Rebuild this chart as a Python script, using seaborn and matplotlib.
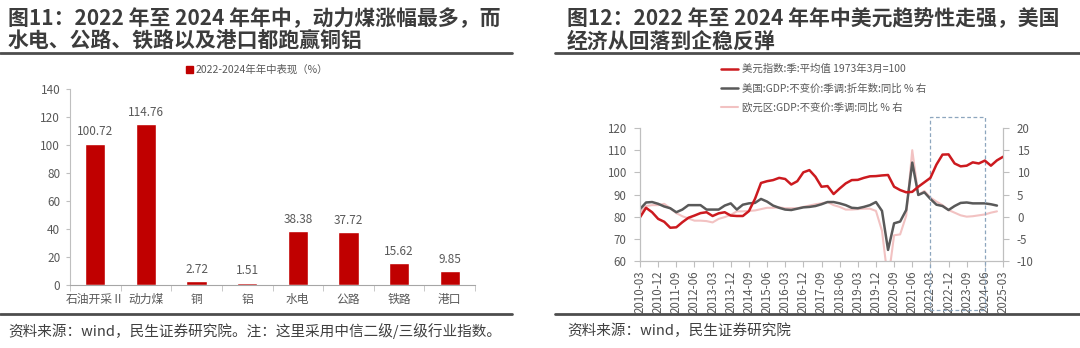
import numpy as np
import pandas as pd
import matplotlib
matplotlib.use("Agg")
import matplotlib.pyplot as plt
import matplotlib.transforms as mtransforms
from matplotlib.lines import Line2D
from matplotlib.patches import Rectangle
import seaborn as sns

sns.set_style("white")
plt.rcParams['font.family'] = ['Noto Sans CJK SC', 'DejaVu Sans']
plt.rcParams['axes.unicode_minus'] = False

# ---- left panel: sector performance 2022 - mid 2024 ----
industries = ["石油开采Ⅱ", "动力煤", "铜", "铝", "水电", "公路", "铁路", "港口"]
performance = [100.72, 114.76, 2.72, 1.51, 38.38, 37.72, 15.62, 9.85]
bar_series_name = "2022-2024年年中表现（%）"

# ---- right panel: USD index vs. US / euro area GDP growth ----
quarters = pd.period_range("2010Q1", "2025Q1", freq="Q")
quarter_labels = [f"{p.year}-{p.quarter * 3:02d}" for p in quarters]
usd_index = [79.7, 84.0, 82.0, 79.0, 77.7, 75.0, 75.2, 77.5, 79.5, 80.5,
             81.6, 82.0, 80.3, 81.5, 82.0, 80.5, 80.3, 80.3, 82.5, 88.0,
             95.2, 96.0, 96.5, 97.5, 97.0, 94.5, 96.0, 100.0, 101.0, 98.0,
             93.5, 93.8, 90.2, 92.7, 95.0, 96.5, 96.6, 97.5, 98.2, 98.3,
             98.6, 98.8, 93.5, 92.0, 91.0, 91.2, 93.5, 95.5, 97.5, 103.5,
             108.0, 108.1, 104.0, 102.7, 103.0, 104.5, 104.0, 105.3, 103.0, 105.4,
             107.0]
us_gdp = [1.7, 3.2, 3.3, 2.9, 2.3, 1.9, 1.0, 1.6, 2.6, 2.6,
          2.6, 1.6, 1.6, 1.6, 2.5, 3.0, 1.6, 2.7, 3.0, 3.1,
          4.0, 3.4, 2.5, 2.0, 1.6, 1.5, 1.8, 2.1, 2.2, 2.4,
          2.8, 3.3, 3.3, 3.0, 2.6, 2.0, 1.9, 2.2, 2.6, 3.3,
          1.3, -7.5, -1.5, -1.1, 1.5, 12.2, 4.9, 5.5, 4.0, 2.7,
          2.4, 1.5, 2.4, 3.1, 3.2, 3.0, 3.0, 3.0, 2.8, 2.5]
ez_gdp = [1.0, 2.4, 2.6, 2.6, 2.9, 1.9, 0.8, 0.1, -0.4, -0.9,
          -0.9, -1.0, -1.3, -0.5, -0.1, 0.4, 1.2, 1.2, 1.3, 1.4,
          1.7, 2.0, 2.0, 2.1, 1.9, 1.9, 1.9, 2.2, 2.5, 2.8,
          3.0, 3.3, 2.6, 2.2, 1.6, 1.6, 1.7, 1.8, 1.8, 1.3,
          -3.2, -14.5, -4.2, -4.0, 0.2, 15.0, 4.9, 5.8, 4.3, 3.4,
          2.6, 1.5, 0.9, 0.3, 0.0, 0.1, 0.3, 0.5, 0.9, 1.2]
usd_name = "美元指数:季:平均值 1973年3月=100"
us_name = "美国:GDP:不变价:季调:折年数:同比 % 右"
ez_name = "欧元区:GDP:不变价:季调:同比 % 右"
highlight_period = ("2022-03", "2024-06")

RED = "#C00000"
LINE_RED = "#CC1A1F"
DARK = "#595959"
PINK = "#F2C2C2"
TXT = "#595959"
AXC = "#BFBFBF"
HEAD = "#3C3C3C"

W, H = 1080, 348
fig = plt.figure(figsize=(W / 100, H / 100), dpi=100)


def fx(px):
    return px / W


def fy(py):
    return 1 - py / H


# ---------------- left: bar chart ----------------
ax1 = fig.add_axes([fx(70), fy(285), fx(405), (285 - 89) / H])
bar_df = pd.DataFrame({"industry": industries, "value": performance})
sns.barplot(data=bar_df, x="industry", y="value", color=RED, width=0.4,
            saturation=1, ax=ax1)
for c in ax1.containers:
    ax1.bar_label(c, fmt="%.2f", padding=4, fontsize=8.5, color=TXT)
ax1.set_xlim(-0.5, len(industries) - 0.5)
ax1.set_ylim(0, 140)
ax1.set_yticks(np.arange(0, 141, 20))
ax1.set_xlabel("")
ax1.set_ylabel("")
ax1.set_xticks(np.arange(-0.5, len(industries), 1.0), minor=True)
ax1.tick_params(axis="x", which="major", length=0, labelsize=8.5,
                labelcolor=TXT, pad=6)
ax1.tick_params(axis="x", which="minor", length=4, color=AXC, direction="out",
                bottom=True)
ax1.tick_params(axis="y", length=3, color=AXC, direction="out", left=True,
                labelsize=8.5, labelcolor=TXT, pad=4)
for s in ["top", "right"]:
    ax1.spines[s].set_visible(False)
ax1.spines["left"].set_color(AXC)
ax1.spines["bottom"].set_color("#A6A6A6")
ax1.spines["left"].set_linewidth(0.8)
ax1.spines["bottom"].set_linewidth(0.8)

fig.legend([Rectangle((0, 0), 1, 1, color=RED)], [bar_series_name],
           loc="center", bbox_to_anchor=(fx(257), fy(70)), frameon=False,
           fontsize=7.5, labelcolor=TXT, handlelength=0.7, handleheight=0.7,
           handletextpad=0.3)

# ---------------- right: line chart ----------------
ax = fig.add_axes([fx(640), fy(261), fx(363), (261 - 128) / H])
ax2 = ax.twinx()

n_q = len(quarter_labels)
usd_df = pd.DataFrame({"q": np.arange(len(usd_index)), "v": usd_index})
us_df = pd.DataFrame({"q": np.arange(len(us_gdp)), "v": us_gdp})
ez_df = pd.DataFrame({"q": np.arange(len(ez_gdp)), "v": ez_gdp})

sns.lineplot(data=ez_df, x="q", y="v", ax=ax2, color=PINK, lw=1.5)
sns.lineplot(data=us_df, x="q", y="v", ax=ax2, color=DARK, lw=1.8)
sns.lineplot(data=usd_df, x="q", y="v", ax=ax, color=LINE_RED, lw=1.8)

ax.set_zorder(ax2.get_zorder() + 1)
ax.patch.set_visible(False)

ax.set_xlim(0, n_q - 1)
ax.set_ylim(60, 120)
ax.set_yticks(np.arange(60, 121, 10))
ax2.set_ylim(-10, 20)
ax2.set_yticks(np.arange(-10, 21, 5))
ticks = np.arange(0, n_q, 3)
ax.set_xticks(ticks)
ax.set_xticklabels([quarter_labels[i] for i in ticks], rotation=90)
for a in (ax, ax2):
    a.set_xlabel("")
    a.set_ylabel("")
    for s in a.spines.values():
        s.set_color(AXC)
        s.set_linewidth(0.8)
    a.spines["top"].set_visible(False)
ax.tick_params(axis="x", length=4, color=AXC, direction="out", bottom=True,
               labelsize=8.3, labelcolor=TXT, pad=3)
ax.tick_params(axis="y", length=4, color=AXC, direction="out", left=True,
               labelsize=8.3, labelcolor=TXT, pad=6)
ax2.tick_params(axis="y", length=4, color=AXC, direction="out", right=True,
                labelsize=8.3, labelcolor=TXT, pad=6)

# dashed frame around the highlighted period
x0 = quarter_labels.index(highlight_period[0])
x1 = quarter_labels.index(highlight_period[1])
trans = mtransforms.blended_transform_factory(ax.transData, ax.transAxes)
box_bottom = -(310 - 261) / 133
box_top = (261 - 117) / 133
ax.add_patch(Rectangle((x0, box_bottom), x1 - x0, box_top - box_bottom,
                       transform=trans, fill=False, ls=(0, (3, 2)),
                       ec="#8DA6BE", lw=0.9, clip_on=False))

handles = [Line2D([], [], color=LINE_RED, lw=1.8),
           Line2D([], [], color=DARK, lw=1.8),
           Line2D([], [], color=PINK, lw=1.5)]
fig.legend(handles, [usd_name, us_name, ez_name], loc="upper left",
           bbox_to_anchor=(fx(721), fy(64)), frameon=False, fontsize=7.5,
           labelcolor=TXT, handlelength=1.6, handletextpad=0.4,
           labelspacing=0.85, borderaxespad=0, borderpad=0)

# ---------------- headings, rules and sources ----------------
title_kw = dict(fontsize=15, fontweight="bold", color=HEAD, va="center",
                ha="left")
fig.text(fx(8), fy(19), "图11：2022 年至 2024 年年中，动力煤涨幅最多，而", **title_kw)
fig.text(fx(8), fy(41), "水电、公路、铁路以及港口都跑赢铜铝", **title_kw)
fig.text(fx(567), fy(19), "图12：2022 年至 2024 年年中美元趋势性走强，美国", **title_kw)
fig.text(fx(567), fy(41), "经济从回落到企稳反弹", **title_kw)

rule_kw = dict(transform=fig.transFigure, color="#4D4D4D", lw=2.0)
fig.add_artist(Line2D([0, fx(512)], [fy(53), fy(53)], **rule_kw))
fig.add_artist(Line2D([fx(555), 1], [fy(53), fy(53)], **rule_kw))
fig.add_artist(Line2D([0, fx(512)], [fy(314), fy(314)], **rule_kw))
fig.add_artist(Line2D([fx(555), 1], [fy(314), fy(314)], **rule_kw))

src_kw = dict(fontsize=10.5, color="#404040", va="center", ha="left")
fig.text(fx(8), fy(331), "资料来源：wind，民生证券研究院。注：这里采用中信二级/三级行业指数。", **src_kw)
fig.text(fx(567), fy(331), "资料来源：wind，民生证券研究院", **src_kw)

fig.savefig("out.png", dpi=100)
